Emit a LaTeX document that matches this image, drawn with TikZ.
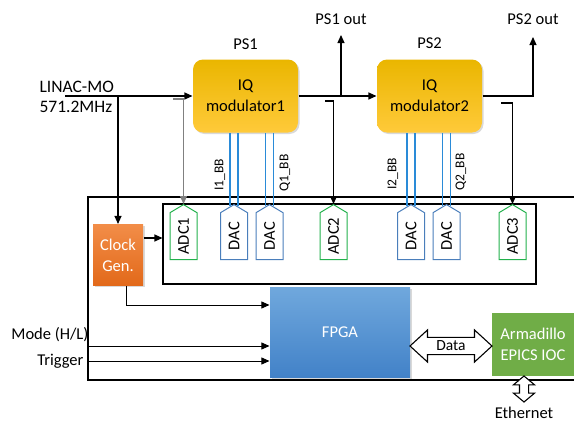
\documentclass[tikz,border=0pt]{standalone}
\usepackage{fontspec}
\setmainfont{Carlito}
\usepackage{tikz}
\usetikzlibrary{arrows.meta, positioning, shapes.symbols, shapes.arrows, shadows, calc}
\definecolor{iqtop}{HTML}{EAB600}
\definecolor{iqbot}{HTML}{FFCA3A}
\definecolor{clktop}{HTML}{F28D48}
\definecolor{clkbot}{HTML}{E2691A}
\definecolor{fpgatop}{HTML}{70A8DD}
\definecolor{fpgabot}{HTML}{4282C8}
\definecolor{armgreen}{HTML}{70AD47}
\definecolor{adcgreen}{HTML}{22B14C}
\definecolor{dacblue}{HTML}{4A7EBB}
\definecolor{bbblue}{HTML}{2A8BD8}

\begin{document}
\begin{tikzpicture}[x=1pt, y=-1pt, font=\fontsize{16.5}{21}\selectfont,
  line width=1.1pt, >={Triangle[length=8pt,width=7pt]},
  softshadow/.style={drop shadow={opacity=0.3, shadow xshift=1.5pt, shadow yshift=-1.5pt}},
  iqbox/.style={rounded corners=10pt, top color=iqtop, bottom color=iqbot,
    minimum width=105pt, minimum height=73pt, align=center, softshadow},
  clkbox/.style={top color=clktop, bottom color=clkbot, text=white,
    minimum width=50pt, minimum height=61pt, align=center, softshadow},
  fpgabox/.style={top color=fpgatop, bottom color=fpgabot, text=white,
    minimum width=140pt, minimum height=90pt, softshadow},
  armbox/.style={fill=armgreen, text=white, minimum width=82pt,
    minimum height=63pt, align=center, inner sep=0pt},
  chip/.style={signal, signal to=east, rotate=90, draw, line width=1pt,
    minimum width=55pt, minimum height=27pt, inner sep=0pt, signal pointer angle=118},
  adc/.style={chip, draw=adcgreen},
  dac/.style={chip, draw=dacblue},
  bbline/.style={bbblue, line width=1.1pt},
  bblabel/.style={rotate=90, font=\fontsize{13.5}{16}\selectfont},
  thinline/.style={line width=0.8pt},
  fatarrow/.style={double arrow, draw, fill=white, line width=1.1pt,
    double arrow tip angle=85}
]
  \useasboundingbox (0,0) rectangle (574,423);

  % Modulators
  \node[iqbox] (iq1) at (245.5,96) {IQ\\modulator1};
  \node[iqbox] (iq2) at (429.5,96) {IQ\\modulator2};
  \node[above=5pt of iq1] (ps1) {PS1};
  \node[above=6pt of iq2] (ps2) {PS2};

  % RF input
  \node[anchor=west, align=left, inner sep=0pt, font=\fontsize{17.5}{19.5}\selectfont]
    (linac) at (39,97) {LINAC-MO\\571.2MHz};
  \coordinate (rfin) at (65,96);
  \draw[->] (rfin) -- (iq1.west);

  % Outputs
  \coordinate (ps1tip) at (341,35);
  \coordinate (ps2tip) at (533,37);
  \node[above=6.5pt of ps1tip] (ps1out) {PS1 out};
  \node[above=8pt of ps2tip] (ps2out) {PS2 out};
  \draw[->] (iq1.east) -- (iq2.west);
  \draw[->] (iq1.east -| ps1tip) -- (ps1tip);
  \draw[->] (iq2.east) -| (ps2tip);

  % Board frame
  \draw (574,197) -- (88,197) -- (88,380) -- (574,380);
  \node[draw, minimum width=373pt, minimum height=80pt, inner sep=0pt] (adcbox) at (349.5,244) {};

  % Converters
  \node[adc, anchor=east] (adc1) at (183.5,204) {ADC1};
  \node[dac, anchor=east] (dac1) at (234,204) {DAC};
  \node[dac, anchor=east] (dac2) at (269.5,204) {DAC};
  \node[adc, anchor=east] (adc2) at (333.5,204) {ADC2};
  \node[dac, anchor=east] (dac3) at (411,204) {DAC};
  \node[dac, anchor=east] (dac4) at (446.5,204) {DAC};
  \node[adc, anchor=east] (adc3) at (512.5,204) {ADC3};

  % Baseband lines
  \foreach \d/\m in {dac1/iq1, dac2/iq1, dac3/iq2, dac4/iq2} {
    \draw[bbline] ([xshift=-4pt]\d.east |- \m.south) -- ([shift={(-4,2.4)}]\d.east);
    \draw[bbline] ([xshift=4pt]\d.east |- \m.south) -- ([shift={(4,2.4)}]\d.east);
  }
  \node[bblabel] (i1bb) at (220,175) {I1\_BB};
  \node[bblabel] (q1bb) at (285,173) {Q1\_BB};
  \node[bblabel] (i2bb) at (393,174) {I2\_BB};
  \node[bblabel] (q2bb) at (461,172) {Q2\_BB};

  % RF taps to ADCs
  \coordinate (tap1) at (173,99);
  \coordinate (tap2) at (325,101);
  \coordinate (tap3) at (501,103);
  \draw[->, gray] (tap1) -| (adc1.east);
  \draw[->] (tap2) -| (adc2.east);
  \draw[->] (tap3) -| (adc3.east);

  % Clock
  \node[clkbox] (clk) at (118,255) {Clock\\Gen.};
  \draw[->] (rfin -| clk.north) -- (clk.north);
  \draw[->] ([yshift=17pt]clk.east) -- ([yshift=17pt]clk.east -| adcbox.west);

  % FPGA and IOC
  \node[fpgabox] (fpga) at (340,332) {FPGA};
  \node[armbox] (arm) at (533,344.5) {Armadillo\\EPICS IOC};
  \draw[->, thinline] ([xshift=8pt]clk.south) |- ([yshift=27pt]fpga.west);

  % Control inputs
  \node[anchor=east, inner sep=0pt] (mode) at (89,335) {Mode (H/L)};
  \node[anchor=east, inner sep=0pt] (trig) at (84,361) {Trigger};
  \coordinate (modein) at (88,346);
  \coordinate (trigin) at (88,361);
  \draw[->, thinline] (modein) -- (modein -| fpga.west);
  \draw[->, thinline] (trigin) -- (trigin -| fpga.west);

  % Data and network
  \node[fatarrow, minimum height=82pt, inner sep=3pt, double arrow head extend=7.5pt,
    font=\fontsize{15.5}{18}\selectfont] (data) at (451,346) {Data};
  \node[fatarrow, shape border rotate=90, minimum height=26pt, inner sep=4pt,
    double arrow head extend=6pt, double arrow tip angle=100] (eth) at (524,389) {};
  \node[anchor=base, inner sep=0pt] (ethlbl) at (524,418.5) {Ethernet};
\end{tikzpicture}
\end{document}
